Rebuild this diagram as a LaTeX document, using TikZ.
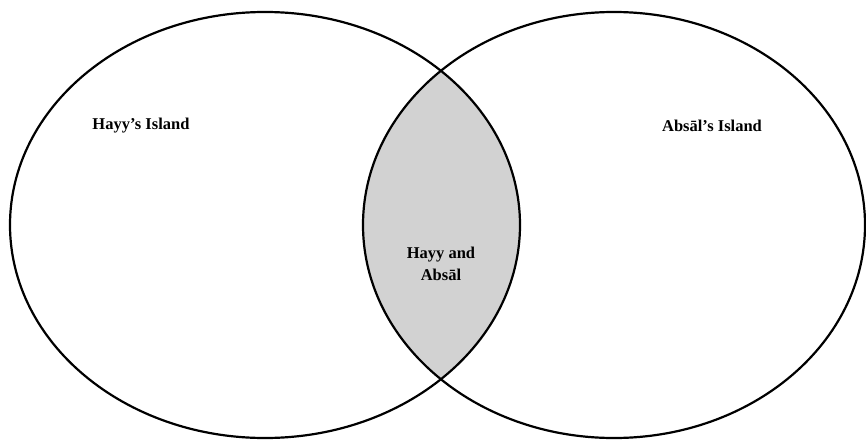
\documentclass[tikz,border=0pt]{standalone}
\usepackage{fontspec}
\setmainfont{Liberation Serif}
\tikzset{
    island/.style={line width=2.2pt, black},
    label/.style={font=\fontsize{16.5}{22}\selectfont\bfseries, align=center, inner sep=0pt}
}

\begin{document}
\begin{tikzpicture}[x=1pt,y=-1pt]
    \useasboundingbox (0,0) rectangle (866,441);
    % Shared part of the two islands
    \begin{scope}
        \clip (265,225) ellipse [x radius=255, y radius=213];
        \fill[gray!35] (614,225) ellipse [x radius=251, y radius=213];
    \end{scope}
    % Island outlines
    \draw[island] (265,225) ellipse [x radius=255, y radius=213];
    \draw[island] (614,225) ellipse [x radius=251, y radius=213];
    \node[label] (hayy) at (141,126) {Hayy’s Island};
    \node[label] (absal) at (712,126) {Absāl’s Island};
    \node[label] (both) at (441,264) {Hayy and\\Absāl};
\end{tikzpicture}
\end{document}
